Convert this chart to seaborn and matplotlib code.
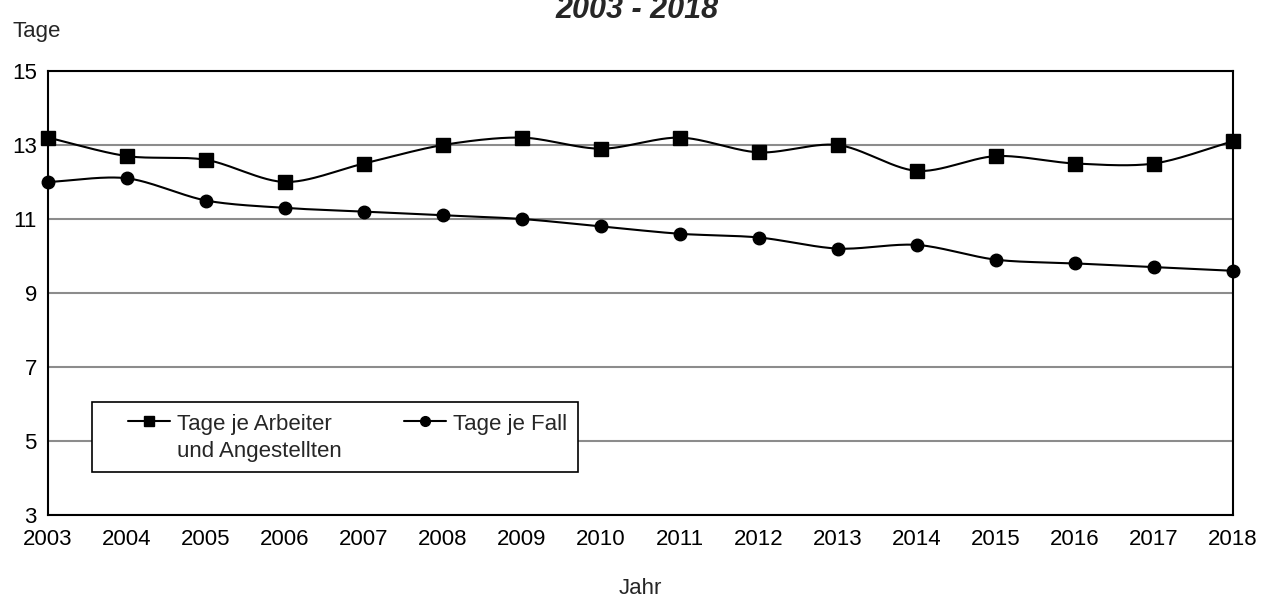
import numpy as np
import matplotlib
matplotlib.use("Agg")
import matplotlib.pyplot as plt
import matplotlib.patches as mpatches
from matplotlib.legend_handler import HandlerLine2D
import seaborn as sns
import pandas as pd

# data
jahre = [2003, 2004, 2005, 2006, 2007, 2008, 2009, 2010, 2011, 2012, 2013, 2014, 2015, 2016, 2017, 2018]
tage_je_arbeiter = [13.2, 12.7, 12.6, 12.0, 12.5, 13.0, 13.2, 12.9, 13.2, 12.8, 13.0, 12.3, 12.7, 12.5, 12.5, 13.1]
tage_je_fall = [12.0, 12.1, 11.5, 11.3, 11.2, 11.1, 11.0, 10.8, 10.6, 10.5, 10.2, 10.3, 9.9, 9.8, 9.7, 9.6]
y_ticks = [3, 5, 7, 9, 11, 13, 15]
label_arbeiter = "Tage je Arbeiter\nund Angestellten"
label_fall = "Tage je Fall\n "


def smooth(x, y, n=30):
    # catmull-rom style curve like the excel "smoothed line"
    x = np.asarray(x, float)
    y = np.asarray(y, float)
    px = np.concatenate([[2 * x[0] - x[1]], x, [2 * x[-1] - x[-2]]])
    py = np.concatenate([[2 * y[0] - y[1]], y, [2 * y[-1] - y[-2]]])
    xs, ys = [], []
    t = np.linspace(0, 1, n)
    for i in range(1, len(px) - 2):
        for p, out in ((px, xs), (py, ys)):
            p0, p1, p2, p3 = p[i - 1], p[i], p[i + 1], p[i + 2]
            m1 = (p2 - p0) / 2 * 0.9
            m2 = (p3 - p1) / 2 * 0.9
            h00 = 2 * t**3 - 3 * t**2 + 1
            h10 = t**3 - 2 * t**2 + t
            h01 = -2 * t**3 + 3 * t**2
            h11 = t**3 - t**2
            out.extend(h00 * p1 + h10 * m1 + h01 * p2 + h11 * m2)
    return np.array(xs), np.array(ys)


class TopLineHandler(HandlerLine2D):
    # put the legend line next to the first text line, not the middle
    def create_artists(self, legend, orig_handle, xdescent, ydescent, width, height, fontsize, trans):
        return super().create_artists(legend, orig_handle, xdescent, ydescent - 1.6 * fontsize,
                                      width, height, fontsize, trans)


sns.set_style("white")
plt.rcParams["font.family"] = ["Liberation Sans", "DejaVu Sans"]

fig = plt.figure(figsize=(12.74, 6.01), dpi=100)
ax = fig.add_axes([48 / 1274, 86 / 601, 1185 / 1274, 444 / 601])

for ydata, mk, ms, lab in [(tage_je_arbeiter, "s", 9.5, label_arbeiter),
                           (tage_je_fall, "o", 9, label_fall)]:
    sx, sy = smooth(jahre, ydata)
    curve = pd.DataFrame({"x": sx, "y": sy})
    sns.lineplot(data=curve, x="x", y="y", ax=ax, color="black", lw=1.5,
                 sort=False, estimator=None, zorder=3)
    ax.plot(jahre, ydata, ls="none", marker=mk, ms=ms, color="black", zorder=4,
            clip_on=False)
    # legend handle
    ax.plot([], [], color="black", lw=1.5, marker=mk, ms=7, label=lab)

ax.set_xlim(2003, 2018)
ax.set_ylim(3, 15)
ax.set_xticks(jahre)
ax.set_yticks(y_ticks)
ax.yaxis.grid(True, color="#8c8c8c", lw=1.5)
ax.set_axisbelow(True)
for s in ax.spines.values():
    s.set_color("black")
    s.set_linewidth(1.5)
ax.tick_params(axis="x", direction="inout", length=10, width=1, labelsize=16, pad=5, colors="black")
ax.tick_params(axis="y", direction="out", length=5, width=1, labelsize=16, pad=3, colors="black")
ax.set_xlabel("Jahr", fontsize=16, labelpad=20)
ax.set_ylabel("")

fig.text(13 / 1274, 1 - 37 / 601, "Tage", fontsize=16, ha="left", va="baseline")
fig.text(0.5, 1 - 18 / 601, "2003 - 2018", fontsize=22, fontweight="bold",
         fontstyle="italic", ha="center", va="baseline")

# legend frame drawn as a box, legend entries placed inside it
box = mpatches.Rectangle(((92 - 48) / 1185, (515 - 472) / 444), (578 - 92) / 1185, 70 / 444,
                         transform=ax.transAxes, facecolor="white", edgecolor="black",
                         lw=1.2, zorder=5)
ax.add_patch(box)

handles, labels = ax.get_legend_handles_labels()
leg = ax.legend(handles, labels, ncol=2, loc="upper left",
                bbox_to_anchor=((128 - 48) / 1185, (515 - 414) / 444),
                fontsize=16, frameon=False, handlelength=1.9, handletextpad=0.3,
                columnspacing=2.8, borderpad=0, borderaxespad=0,
                handler_map={h: TopLineHandler() for h in handles})
leg.set_zorder(6)
for t in leg.get_texts():
    t.set_linespacing(1.4)

fig.savefig("out.png", dpi=100)
